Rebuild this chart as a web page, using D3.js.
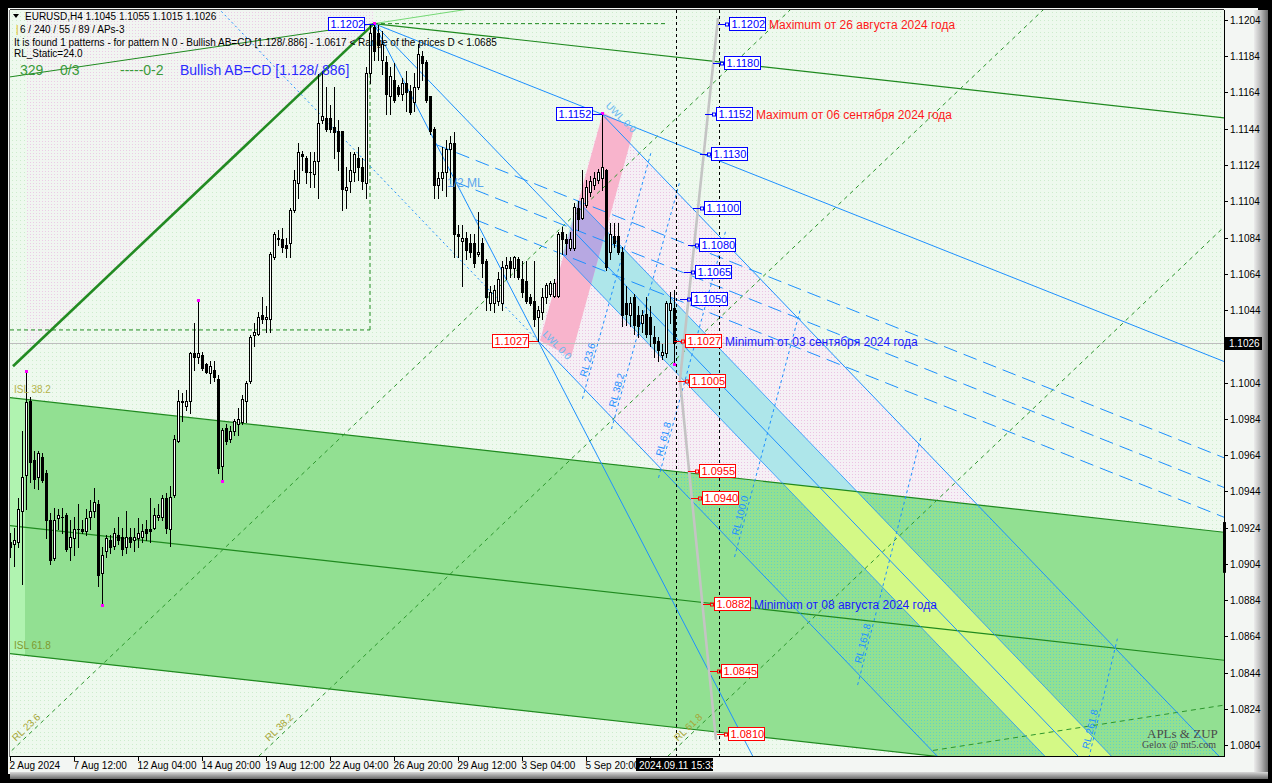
<!DOCTYPE html>
<html><head><meta charset="utf-8"><title>EURUSD H4</title>
<script src="https://cdn.jsdelivr.net/npm/d3@7/dist/d3.min.js"></script>
<style>html,body{margin:0;padding:0;background:#000;overflow:hidden}svg{display:block;font-family:"Liberation Sans",Arial,sans-serif}</style>
</head><body><svg id="chart" width="1272" height="783"></svg>
<script>
// ---------------- DATA ----------------
const headerLine = "EURUSD,H4  1.1045 1.1055 1.1015 1.1026";
const paramLine = " 6 / 240 / 55 / 89 / APs-3";
const patternLine = "It is found 1 patterns  -  for pattern N 0 - Bullish AB=CD [1.128/.886] - 1.0617 < Range of the prices D < 1.0685";
const staticLine = "RL_Static=24.0";
const statusItems = ["329", "0/3", "-----0-2"];
const patternName = "Bullish AB=CD [1.128/.886]";

// H4 candles, index 0 = 2 Aug 20:00 ... index 166 = 11 Sep 12:00  [open, high, low, close]
const candles = [
[1.0916,1.0921,1.0908,1.0913],[1.0915,1.0924,1.0903,1.0917],[1.0916,1.0940,1.0913,1.0934],[1.0933,1.0977,1.0893,1.0952],
[1.0953,1.1010,1.0934,1.0993],[1.0994,1.0996,1.0949,1.0960],[1.0961,1.0966,1.0946,1.0951],[1.0952,1.0966,1.0945,1.0965],
[1.0963,1.0965,1.0949,1.0950],[1.0954,1.0956,1.0918,1.0928],[1.0928,1.0932,1.0904,1.0906],[1.0907,1.0935,1.0906,1.0928],
[1.0929,1.0934,1.0923,1.0931],[1.0930,1.0935,1.0921,1.0930],[1.0931,1.0932,1.0911,1.0912],[1.0913,1.0928,1.0906,1.0919],
[1.0918,1.0930,1.0909,1.0923],[1.0923,1.0937,1.0913,1.0923],[1.0923,1.0928,1.0921,1.0922],[1.0922,1.0934,1.0920,1.0929],
[1.0930,1.0939,1.0923,1.0933],[1.0933,1.0946,1.0930,1.0938],[1.0937,1.0939,1.0892,1.0898],[1.0899,1.0913,1.0882,1.0909],
[1.0911,1.0920,1.0908,1.0918],[1.0917,1.0920,1.0910,1.0913],[1.0914,1.0924,1.0912,1.0921],[1.0920,1.0930,1.0915,1.0917],
[1.0919,1.0924,1.0909,1.0912],[1.0913,1.0933,1.0910,1.0919],[1.0919,1.0924,1.0913,1.0916],[1.0917,1.0924,1.0911,1.0919],
[1.0918,1.0929,1.0913,1.0921],[1.0919,1.0926,1.0916,1.0922],[1.0923,1.0928,1.0917,1.0921],[1.0923,1.0940,1.0916,1.0922],
[1.0924,1.0935,1.0923,1.0931],[1.0930,1.0937,1.0928,1.0931],[1.0930,1.0942,1.0928,1.0940],[1.0940,1.0943,1.0921,1.0924],
[1.0923,1.0947,1.0914,1.0941],[1.0942,1.0975,1.0941,1.0973],[1.0972,1.1000,1.0971,1.0994],[1.0994,1.0998,1.0983,1.0993],
[1.0991,1.1000,1.0989,1.0994],[1.0994,1.1021,1.0987,1.1020],[1.1020,1.1037,1.1011,1.1018],[1.1018,1.1049,1.1015,1.1020],
[1.1019,1.1021,1.1011,1.1012],[1.1014,1.1015,1.1009,1.1010],[1.1009,1.1016,1.1004,1.1013],[1.1011,1.1016,1.1005,1.1007],
[1.1006,1.1008,1.0954,1.0957],[1.0958,1.0979,1.0950,1.0978],[1.0979,1.0981,1.0970,1.0972],[1.0973,1.0980,1.0971,1.0977],
[1.0977,1.0984,1.0975,1.0983],[1.0981,1.0990,1.0975,1.0984],[1.0982,1.0997,1.0981,1.0995],[1.0994,1.1005,1.0982,1.1004],
[1.1005,1.1030,1.1004,1.1029],[1.1030,1.1037,1.1024,1.1032],[1.1031,1.1043,1.1030,1.1040],[1.1041,1.1051,1.1037,1.1039],
[1.1039,1.1046,1.1032,1.1040],[1.1039,1.1076,1.1032,1.1075],[1.1073,1.1087,1.1072,1.1086],[1.1084,1.1088,1.1080,1.1083],
[1.1083,1.1089,1.1076,1.1079],[1.1080,1.1084,1.1073,1.1078],[1.1081,1.1100,1.1073,1.1099],[1.1099,1.1121,1.1098,1.1116],
[1.1114,1.1136,1.1106,1.1131],[1.1130,1.1132,1.1121,1.1129],[1.1128,1.1129,1.1114,1.1120],[1.1120,1.1131,1.1112,1.1120],
[1.1119,1.1131,1.1112,1.1126],[1.1126,1.1174,1.1106,1.1147],[1.1149,1.1176,1.1147,1.1151],[1.1150,1.1167,1.1143,1.1144],
[1.1150,1.1157,1.1142,1.1144],[1.1145,1.1167,1.1128,1.1142],[1.1143,1.1149,1.1121,1.1132],[1.1143,1.1143,1.1099,1.1111],
[1.1110,1.1123,1.1100,1.1112],[1.1115,1.1131,1.1109,1.1121],[1.1120,1.1131,1.1115,1.1130],[1.1128,1.1134,1.1116,1.1123],
[1.1123,1.1128,1.1111,1.1115],[1.1114,1.1178,1.1106,1.1175],[1.1175,1.1202,1.1169,1.1197],[1.1200,1.1202,1.1182,1.1187],
[1.1197,1.1201,1.1182,1.1190],[1.1182,1.1198,1.1174,1.1191],[1.1181,1.1184,1.1152,1.1163],[1.1162,1.1178,1.1152,1.1173],
[1.1171,1.1180,1.1159,1.1160],[1.1167,1.1168,1.1162,1.1163],[1.1163,1.1172,1.1160,1.1169],[1.1169,1.1176,1.1154,1.1164],
[1.1165,1.1168,1.1152,1.1153],[1.1159,1.1175,1.1154,1.1167],[1.1167,1.1191,1.1166,1.1185],[1.1184,1.1187,1.1171,1.1180],
[1.1181,1.1182,1.1159,1.1160],[1.1162,1.1162,1.1141,1.1143],[1.1144,1.1145,1.1106,1.1113],[1.1113,1.1120,1.1106,1.1117],
[1.1117,1.1134,1.1110,1.1120],[1.1120,1.1138,1.1107,1.1133],[1.1133,1.1140,1.1114,1.1136],[1.1136,1.1142,1.1073,1.1086],
[1.1086,1.1091,1.1073,1.1085],[1.1082,1.1091,1.1057,1.1084],[1.1084,1.1087,1.1072,1.1077],[1.1081,1.1086,1.1073,1.1076],
[1.1081,1.1086,1.1068,1.1070],[1.1075,1.1098,1.1074,1.1076],[1.1081,1.1084,1.1062,1.1070],[1.1071,1.1072,1.1044,1.1051],
[1.1048,1.1057,1.1044,1.1054],[1.1048,1.1058,1.1043,1.1055],[1.1049,1.1065,1.1047,1.1061],[1.1048,1.1071,1.1044,1.1068],
[1.1067,1.1073,1.1061,1.1069],[1.1071,1.1073,1.1062,1.1067],[1.1067,1.1074,1.1062,1.1073],[1.1072,1.1073,1.1061,1.1062],
[1.1061,1.1071,1.1051,1.1054],[1.1060,1.1071,1.1048,1.1049],[1.1051,1.1053,1.1047,1.1048],[1.1049,1.1071,1.1035,1.1039],
[1.1040,1.1046,1.1027,1.1044],[1.1043,1.1056,1.1039,1.1051],[1.1051,1.1059,1.1048,1.1058],[1.1053,1.1060,1.1052,1.1059],
[1.1052,1.1061,1.1051,1.1059],[1.1052,1.1087,1.1051,1.1086],[1.1087,1.1090,1.1075,1.1083],[1.1083,1.1086,1.1075,1.1081],
[1.1078,1.1087,1.1077,1.1083],[1.1078,1.1103,1.1077,1.1101],[1.1100,1.1104,1.1088,1.1094],[1.1095,1.1121,1.1094,1.1106],
[1.1102,1.1116,1.1101,1.1112],[1.1109,1.1118,1.1107,1.1115],[1.1113,1.1120,1.1111,1.1117],[1.1116,1.1122,1.1114,1.1120],
[1.1117,1.1152,1.1110,1.1123],[1.1121,1.1122,1.1066,1.1068],[1.1076,1.1092,1.1072,1.1086],[1.1085,1.1092,1.1079,1.1081],
[1.1085,1.1092,1.1075,1.1076],[1.1076,1.1079,1.1035,1.1041],[1.1048,1.1057,1.1036,1.1042],[1.1041,1.1051,1.1035,1.1048],
[1.1051,1.1053,1.1031,1.1036],[1.1041,1.1046,1.1029,1.1035],[1.1037,1.1044,1.1032,1.1041],[1.1042,1.1051,1.1029,1.1031],
[1.1040,1.1046,1.1024,1.1031],[1.1029,1.1035,1.1018,1.1026],[1.1027,1.1029,1.1016,1.1022],[1.1019,1.1025,1.1017,1.1021],
[1.1020,1.1049,1.1018,1.1048],[1.1044,1.1054,1.1037,1.1048],[1.1045,1.1055,1.1015,1.1026]
];
const currentPrice = 1.1026;
const tickBars = [0,16,32,48,64,80,96,112,128,144,160];
const tickLabels = ["2 Aug 2024","7 Aug 12:00","12 Aug 04:00","14 Aug 20:00","19 Aug 12:00","22 Aug 04:00","26 Aug 20:00","29 Aug 12:00","3 Sep 04:00","5 Sep 20:00",""];
const priceTicks = [1.1204,1.1184,1.1164,1.1144,1.1124,1.1104,1.1084,1.1064,1.1044,1.1024,1.1004,1.0984,1.0964,1.0944,1.0924,1.0904,1.0884,1.0864,1.0844,1.0824,1.0804];
const cursorTime = "2024.09.11 15:33";
const fractalHighs = [4,47,91,148];
const fractalLows = [23,53,166];

// pattern pivots [bar, price]
const pivotA = [91, 1.1202], pivotB = [132, 1.1027], pivotC = [148, 1.1152];
// ISL channel: ISL 0 line through A, channel width (price), levels
const islTop = [[91, 1.1202], [303.5, 1.1150]];
const islWidth = 0.05985;
const islLevels = [0.382, 0.5, 0.618];
// green dashed RL lines: [label, bar, price] start points, common slope per bar
const greenRL = [["RL 23.6", 0, 1.0800], ["RL 38.2", 63.25, 1.0800], ["RL 61.8", 165.5, 1.0800]];
const greenRLSlope = 0.00021;
// warning band around the median line
const mlBand = 0.236;
// reaction lines of the fork
const rlLevels = [0.236, 0.382, 0.618, 1.0, 1.618, 2.618];
const rlLabels = ["RL 23.6","RL 38.2","RL 61.8","RL 100.0","RL 161.8","RL 261.8"];
const rlSpanLower = 49.75, rlSpanUpper = 49;
const halfML = [0.382, 0.5, 0.618];
// other trend objects [bar, price]
const thickLeg = [[0.75, 1.1013], [91, 1.1202]];
const thinLeg = [[0, 1.11726], [91, 1.1202]];
const lightLeg = [[91, 1.1202], [117.5, 1.1211]];
const boxLevel = 1.1033, boxStartBar = 0, boxEndBar = 90;
const topDashEnd = 164.5;
const lowerGreenDash = [[230.75, 1.0801], [303.5, 1.0826]];
const pinkBand = [[132.5, 1.1027], [148.25, 1.1153], [156, 1.1144], [140.25, 1.1018]];
const pinkCorner = [[4.25, 1.1212], [90.75, 1.1212]];
const timeLines = [166.5, 177.25];
const zupLine = [[177, 1.1205], [167.5, 1.10054], [176.5, 1.08068]];
const levelAnchor = [[179.75, 1.1202], [168.75, 1.1026], [179.5, 1.0810]];
const levelPrices = [1.1202,1.1180,1.1152,1.1130,1.1100,1.1080,1.1065,1.1050,1.1027,1.1005,1.0955,1.0940,1.0882,1.0845,1.0810];
const levelNotes = {"1.1202":"Maximum от 26 августа 2024 года","1.1152":"Maximum от 06 сентября 2024 года","1.1027":"Minimum от 03 сентября 2024 года","1.0882":"Minimum от 08 августа 2024 года"};
const scaleMarker = [1.0927, 1.0899];

// ---------------- DRAWING ----------------
const svg = d3.select("#chart");
const defs = svg.append("defs");
const PL = 10, PR = 1224, PT = 10, PB = 756;
const x = d3.scaleLinear().domain([0, 303.5]).range([PL, PR]);
const y = d3.scaleLinear().domain([1.0804, 1.1204]).range([745, 20]);
const pAt = (p, s, i) => p[1] + s * (i - p[0]);
const slope = (p, q) => (q[1] - p[1]) / (q[0] - p[0]);
const f4 = d3.format(".4f");
const FAR = 420, NEAR = -20;

function dots(id, bg, dot, step) {
  const p = defs.append("pattern").attr("id", id).attr("width", step).attr("height", step).attr("patternUnits", "userSpaceOnUse");
  if (bg) p.append("rect").attr("width", step).attr("height", step).attr("fill", bg);
  p.append("rect").attr("width", 1).attr("height", 1).attr("fill", dot);
}
dots("bgDots", "#eef9ee", "#cdeccd", 4);
dots("pinkDots", "#f5f0f5", "#ecc2e4", 3);
dots("pinkDotsLight", "#f1f5f1", "#eccbe6", 3);
dots("cyanDots", null, "#62d2c4", 3);
const ptsStr = pts => pts.map(d => x(d[0]) + "," + y(d[1])).join(" ");
function clip(id, pts) { defs.append("clipPath").attr("id", id).append("polygon").attr("points", ptsStr(pts)); }
defs.append("clipPath").attr("id", "plotClip").append("rect").attr("x", PL).attr("y", PT).attr("width", PR - PL).attr("height", PB - PT);
const gr = defs.append("linearGradient").attr("id", "bevR").attr("x1", 0).attr("x2", 1).attr("y1", 0).attr("y2", 0);
gr.append("stop").attr("offset", 0).attr("stop-color", "#ececec");
gr.append("stop").attr("offset", 0.5).attr("stop-color", "#b8b8b8");
gr.append("stop").attr("offset", 1).attr("stop-color", "#6a6a6a");
const gb = defs.append("linearGradient").attr("id", "bevB").attr("x1", 0).attr("x2", 0).attr("y1", 0).attr("y2", 1);
gb.append("stop").attr("offset", 0).attr("stop-color", "#d8d8d8");
gb.append("stop").attr("offset", 1).attr("stop-color", "#6a6a6a");

// frame
svg.append("rect").attr("width", 1272).attr("height", 783).attr("fill", "#000");
svg.append("rect").attr("x", 8).attr("y", 8).attr("width", 1250).attr("height", 766).attr("fill", "#f3f6f3");
svg.append("rect").attr("x", 1254).attr("y", 10).attr("width", 14).attr("height", 769).attr("fill", "url(#bevR)");
svg.append("rect").attr("x", 10).attr("y", 772).attr("width", 1258).attr("height", 7).attr("fill", "url(#bevB)");
svg.append("rect").attr("x", PL).attr("y", PT).attr("width", PR - PL).attr("height", PB - PT).attr("fill", "url(#bgDots)");

const g = svg.append("g").attr("clip-path", "url(#plotClip)");
function poly(sel, pts, fill) { return sel.append("polygon").attr("points", ptsStr(pts)).attr("fill", fill); }
function ln(sel, p, q, c, w, d) {
  return sel.append("line").attr("x1", x(p[0])).attr("y1", y(p[1])).attr("x2", x(q[0])).attr("y2", y(q[1]))
    .attr("stroke", c).attr("stroke-width", w || 1).attr("stroke-dasharray", d || null);
}

// fork geometry
const A = pivotA, B = pivotB, C = pivotC;
const M = [(B[0] + C[0]) / 2, (B[1] + C[1]) / 2];
const sM = slope(A, M);
const sAC = slope(A, C);
const sBC = slope(B, C);
const sI = slope(islTop[0], islTop[1]);
const isl = (f, i) => pAt(islTop[0], sI, i) - f * islWidth;
const tineHalf = pAt(C, sM, 0) - pAt(A, sM, 0);
const bandD = mlBand * tineHalf;
const bcCross = k => { const i = (A[1] - sM * A[0] + k * bandD - B[1] + sBC * B[0]) / (sBC - sM); return [i, pAt(B, sBC, i)]; };

clip("aboveG", [[NEAR, 1.14], [FAR, 1.14], [FAR, isl(islLevels[0], FAR)], [NEAR, isl(islLevels[0], NEAR)]]);
clip("inG", [[NEAR, isl(islLevels[0], NEAR)], [FAR, isl(islLevels[0], FAR)], [FAR, isl(islLevels[2], FAR)], [NEAR, isl(islLevels[2], NEAR)]]);
clip("pinkClip", pinkBand);

// pink corner area above the thick leg
const sThick = slope(thickLeg[0], thickLeg[1]);
poly(g, [pinkCorner[0], pinkCorner[1], A, [pinkCorner[0][0], pAt(thickLeg[0], sThick, pinkCorner[0][0])]], "url(#pinkDotsLight)");

// fork zone
const zone = [B, C, [FAR, pAt(C, sM, FAR)], [FAR, pAt(B, sM, FAR)]];
poly(g.append("g").attr("clip-path", "url(#aboveG)"), zone, "url(#pinkDots)");
// ISL green channel
poly(g, [[NEAR, isl(islLevels[0], NEAR)], [FAR, isl(islLevels[0], FAR)], [FAR, isl(islLevels[2], FAR)], [NEAR, isl(islLevels[2], NEAR)]], "#92e092");
poly(g, [[0, isl(islLevels[0], 0)], [3.75, isl(islLevels[0], 3.75)], [3.75, isl(islLevels[2], 3.75)], [0, isl(islLevels[2], 0)]], "#b0f3b0");
poly(g.append("g").attr("clip-path", "url(#inG)"), zone, "url(#cyanDots)");
// median warning band
const band = [bcCross(-1), bcCross(1), [FAR, pAt(A, sM, FAR) + bandD], [FAR, pAt(A, sM, FAR) - bandD]];
poly(g.append("g").attr("clip-path", "url(#aboveG)"), band, "#aee6ea");
poly(g.append("g").attr("clip-path", "url(#inG)"), band, "#d4f986");
// pink B-C band and overlap
poly(g, pinkBand, "#f8b4cc");
poly(g.append("g").attr("clip-path", "url(#pinkClip)"), band, "#b7a8e2");

// current price line
g.append("line").attr("x1", PL).attr("x2", PR).attr("y1", Math.round(y(currentPrice)) + 0.5).attr("y2", Math.round(y(currentPrice)) + 0.5).attr("stroke", "#bdbdbd");

// green objects
const GREEN = "#1f8a1f";
islLevels.forEach(f => ln(g, [NEAR, isl(f, NEAR)], [FAR, isl(f, FAR)], GREEN, 1.2));
ln(g, A, [FAR, pAt(A, sI, FAR)], GREEN, 1.2);
ln(g, thickLeg[0], thickLeg[1], "#228b22", 2.6);
ln(g, [NEAR, pAt(thinLeg[0], slope(thinLeg[0], thinLeg[1]), NEAR)], thinLeg[1], GREEN, 1);
ln(g, lightLeg[0], [130, pAt(lightLeg[0], slope(lightLeg[0], lightLeg[1]), 130)], "#74d874", 1);
ln(g, [boxStartBar, boxLevel], [boxEndBar, boxLevel], GREEN, 1, "4,3");
ln(g, [boxEndBar, boxLevel], [boxEndBar, A[1]], GREEN, 1, "4,3");
ln(g, A, [topDashEnd, A[1]], GREEN, 1, "4,3");
greenRL.forEach(r => ln(g, [r[1] - 30, r[2] - 30 * greenRLSlope], [r[1] + 320, r[2] + 320 * greenRLSlope], "#2c962c", 1, "4,4"));
ln(g, lowerGreenDash[0], [FAR, pAt(lowerGreenDash[0], slope(lowerGreenDash[0], lowerGreenDash[1]), FAR)], "#2c962c", 1, "5,4");

// blue fork objects
const BLUE = "#1e90ff";
ln(g, A, [FAR, pAt(A, sAC, FAR)], BLUE);
ln(g, A, [260, pAt(A, slope(A, B), 260)], BLUE);
ln(g, A, [FAR, pAt(A, sM, FAR)], BLUE);
ln(g, B, [FAR, pAt(B, sM, FAR)], BLUE);
ln(g, C, [FAR, pAt(C, sM, FAR)], BLUE);
ln(g, B, [NEAR, pAt(B, sM, NEAR)], BLUE, 1, "2,3");
[1, -1].forEach(k => ln(g, bcCross(k), [FAR, pAt(A, sM, FAR) + k * bandD], BLUE, 0.8));
halfML.forEach(f => {
  const s = [A[0] + f * (B[0] - A[0]), A[1] + f * (B[1] - A[1])];
  ln(g, s, [FAR, pAt(s, sAC, FAR)], BLUE, 1, "14,7");
});
rlLevels.forEach((f, k) => {
  const lo = [B[0] + f * rlSpanLower, 0], up = [C[0] + f * rlSpanUpper, 0];
  lo[1] = pAt(B, sM, lo[0]); up[1] = pAt(C, sM, up[0]);
  const e1 = [lo[0] - 0.04 * (up[0] - lo[0]), lo[1] - 0.04 * (up[1] - lo[1])];
  const e2 = [up[0] + 0.04 * (up[0] - lo[0]), up[1] + 0.04 * (up[1] - lo[1])];
  ln(g, e1, e2, BLUE, 1, "3,3");
  const x1 = x(lo[0]), y1 = y(lo[1]), x2 = x(up[0]), y2 = y(up[1]);
  const ang = Math.atan2(y2 - y1, x2 - x1);
  let t = 12 / Math.hypot(x2 - x1, y2 - y1);
  if (y1 > PB - 6) t = (y1 - (PB - 6)) / (y1 - y2);
  const lx = x1 + t * (x2 - x1), ly = y1 + t * (y2 - y1);
  g.append("text").attr("transform", `translate(${lx},${ly}) rotate(${ang * 180 / Math.PI})`).attr("dy", -2)
    .attr("font-size", "10px").attr("fill", BLUE).text(rlLabels[k]);
});

// gray zigzag
g.append("polyline").attr("points", ptsStr(zupLine)).attr("fill", "none").attr("stroke", "#c4c4c4").attr("stroke-width", 2.6);

// candles
const cg = g.append("g");
candles.forEach((d, i) => {
  const [o, h, l, c] = d;
  const xc = Math.round(x(i));
  cg.append("line").attr("x1", xc + 0.5).attr("x2", xc + 0.5).attr("y1", Math.round(y(h))).attr("y2", Math.round(y(l)) + 1).attr("stroke", "#000");
  const top = Math.round(y(Math.max(o, c))), bot = Math.round(y(Math.min(o, c)));
  if (bot - top < 1) {
    cg.append("line").attr("x1", xc - 1).attr("x2", xc + 2).attr("y1", top + 0.5).attr("y2", top + 0.5).attr("stroke", "#000");
  } else {
    cg.append("rect").attr("x", xc - 0.5).attr("y", top + 0.5).attr("width", 2).attr("height", bot - top)
      .attr("fill", c >= o ? "#fff" : "#000").attr("stroke", "#000");
  }
});
fractalHighs.forEach(i => cg.append("rect").attr("x", Math.round(x(i)) - 1).attr("y", Math.round(y(candles[i][1])) - 2).attr("width", 3).attr("height", 3).attr("fill", "#ff00ff"));
fractalLows.forEach(i => cg.append("rect").attr("x", Math.round(x(i)) - 1).attr("y", Math.round(y(candles[i][2]))).attr("width", 3).attr("height", 3).attr("fill", "#ff00ff"));

// time lines
timeLines.forEach(t => g.append("line").attr("x1", Math.round(x(t)) + 0.5).attr("x2", Math.round(x(t)) + 0.5).attr("y1", PT).attr("y2", PB).attr("stroke", "#000").attr("stroke-dasharray", "3,3"));

// labels on objects
const tg = svg.append("g");
function anchorX(p) {
  const seg = p >= levelAnchor[1][1] ? [levelAnchor[0], levelAnchor[1]] : [levelAnchor[1], levelAnchor[2]];
  const t = (p - seg[0][1]) / (seg[1][1] - seg[0][1]);
  return x(seg[0][0] + t * (seg[1][0] - seg[0][0]));
}
function box(xl, yc, txt, col) {
  const yy = Math.round(yc);
  tg.append("rect").attr("x", Math.round(xl) + 0.5).attr("y", yy - 6.5).attr("width", 36).attr("height", 13).attr("fill", "#fff").attr("stroke", col);
  tg.append("text").attr("x", Math.round(xl) + 2.5).attr("y", yy + 4).attr("font-size", "11px").attr("fill", col).text(txt);
}
levelPrices.forEach(p => {
  const col = p > 1.1027 ? "#0000ff" : "#ff0000";
  const xl = Math.round(anchorX(p)), yy = Math.round(y(p)) + 0.5;
  tg.append("line").attr("x1", xl - 11).attr("x2", xl - 3).attr("y1", yy).attr("y2", yy).attr("stroke", col);
  tg.append("rect").attr("x", xl - 3.5).attr("y", yy - 1.5).attr("width", 3).attr("height", 3).attr("fill", "none").attr("stroke", col);
  box(xl, y(p), f4(p), col);
  const note = levelNotes[f4(p)];
  if (note) tg.append("text").attr("x", xl + 40).attr("y", Math.round(y(p)) + 4.5).attr("font-size", "12px")
    .attr("fill", note.startsWith("Max") ? "#ff1a1a" : "#1a1aff").text(note);
});
[[A, "#0000ff"], [C, "#0000ff"], [B, "#ff0000"]].forEach(([P, col]) => {
  const xp = Math.round(x(P[0])), yy = Math.round(y(P[1]));
  tg.append("line").attr("x1", xp - 10).attr("x2", xp).attr("y1", yy + 0.5).attr("y2", yy + 0.5).attr("stroke", col);
  box(xp - 46, y(P[1]), f4(P[1]), col);
});
// object captions
const ISLC = "#a6a638";
tg.append("text").attr("x", 14).attr("y", Math.round(y(isl(islLevels[0], 1))) - 5).attr("font-size", "10px").attr("fill", "#b3b34a").text("ISL 38.2");
tg.append("text").attr("x", 14).attr("y", Math.round(y(isl(islLevels[2], 1))) - 5).attr("font-size", "10px").attr("fill", "#7f9a2e").text("ISL 61.8");
greenRL.forEach(r => {
  const i0 = r[1] + 2.5, p0 = r[2] + 2.5 * greenRLSlope;
  const a = Math.atan2(y(p0 + greenRLSlope) - y(p0), x(1) - x(0)) * 180 / Math.PI;
  tg.append("text").attr("transform", `translate(${x(i0) - 4},${y(p0) - 1}) rotate(${a})`).attr("font-size", "10px").attr("fill", ISLC).text(r[0]);
});
const mid = [A[0] + 0.5 * (B[0] - A[0]), A[1] + 0.5 * (B[1] - A[1])];
tg.append("text").attr("x", x(mid[0]) - 9).attr("y", y(mid[1]) + 5).attr("font-size", "12px").attr("fill", "#5aa5ec").text("1/2 ML");
tg.append("text").attr("transform", `translate(${x(C[0]) + 3},${y(C[1]) - 8}) rotate(45)`).attr("font-size", "10px").attr("fill", "#6ab8f0").text("UWL 0.0");
tg.append("text").attr("transform", `translate(${x(B[0]) + 4},${y(B[1]) - 6}) rotate(45)`).attr("font-size", "10px").attr("fill", "#6ab8f0").text("LWL 0.0");

// header texts
tg.append("path").attr("d", "M13,14 L19,14 L16,18 Z").attr("fill", "#000");
tg.append("text").attr("x", 25).attr("y", 20).attr("font-size", "10px").attr("fill", "#000").text(headerLine);
tg.append("text").attr("x", 16).attr("y", 33).attr("font-size", "10px").attr("fill", "#e0b800").text("|");
tg.append("text").attr("x", 20).attr("y", 33).attr("font-size", "10px").attr("fill", "#000").text(paramLine);
tg.append("text").attr("x", 14).attr("y", 46).attr("font-size", "10px").attr("fill", "#000").text(patternLine);
tg.append("text").attr("x", 14).attr("y", 57).attr("font-size", "10px").attr("fill", "#000").text(staticLine);
[20, 60, 120].forEach((xx, k) => tg.append("text").attr("x", xx).attr("y", 75).attr("font-size", "14px").attr("fill", "#3a9a3a").text(statusItems[k]));
tg.append("text").attr("x", 180).attr("y", 75).attr("font-size", "14px").attr("fill", "#2a2aff").text(patternName);
// watermark
tg.append("text").attr("x", 1147).attr("y", 738).attr("font-family", "Liberation Serif, serif").attr("font-size", "13px").attr("fill", "#4a4a4a").text("APLs & ZUP");
tg.append("text").attr("x", 1142).attr("y", 748).attr("font-family", "Liberation Serif, serif").attr("font-size", "10px").attr("fill", "#4a4a4a").text("Gelox @ mt5.com");

// axes frame
svg.append("line").attr("x1", PR + 0.5).attr("x2", PR + 0.5).attr("y1", PT).attr("y2", PB + 1).attr("stroke", "#000");
svg.append("line").attr("x1", PL).attr("x2", PR + 1).attr("y1", PB + 0.5).attr("y2", PB + 0.5).attr("stroke", "#000");
svg.append("line").attr("x1", PL - 0.5).attr("x2", PL - 0.5).attr("y1", PT).attr("y2", PB + 1).attr("stroke", "#7a7a7a");
svg.append("line").attr("x1", PL).attr("x2", PR).attr("y1", PT - 0.5).attr("y2", PT - 0.5).attr("stroke", "#303030");
// right axis
const ax = svg.append("g").attr("font-size", "10px").attr("fill", "#000");
priceTicks.forEach(p => {
  const yy = Math.round(y(p)) + 0.5;
  ax.append("line").attr("x1", PR).attr("x2", PR + 4).attr("y1", yy).attr("y2", yy).attr("stroke", "#000");
  if (Math.abs(y(p) - y(currentPrice)) > 9) ax.append("text").attr("x", PR + 6).attr("y", yy + 3.5).text(f4(p));
});
ax.append("rect").attr("x", PR + 1).attr("y", Math.round(y(currentPrice)) - 6).attr("width", 37).attr("height", 13).attr("fill", "#000");
ax.append("text").attr("x", PR + 5).attr("y", Math.round(y(currentPrice)) + 4).attr("fill", "#fff").text(f4(currentPrice));
ax.append("rect").attr("x", PR - 1).attr("y", y(scaleMarker[0])).attr("width", 3).attr("height", y(scaleMarker[1]) - y(scaleMarker[0])).attr("fill", "#000");
// bottom axis
tickBars.forEach((b, k) => {
  const xx = Math.round(x(b)) + 0.5;
  ax.append("line").attr("x1", xx).attr("x2", xx).attr("y1", PB).attr("y2", PB + 5).attr("stroke", "#000");
  if (tickLabels[k]) ax.append("text").attr("x", xx - 1).attr("y", 769).text(tickLabels[k]);
});
ax.append("rect").attr("x", 636).attr("y", 758).attr("width", 77).attr("height", 13).attr("fill", "#000");
ax.append("text").attr("x", 639).attr("y", 768.5).attr("fill", "#fff").text(cursorTime);
</script></body></html>
